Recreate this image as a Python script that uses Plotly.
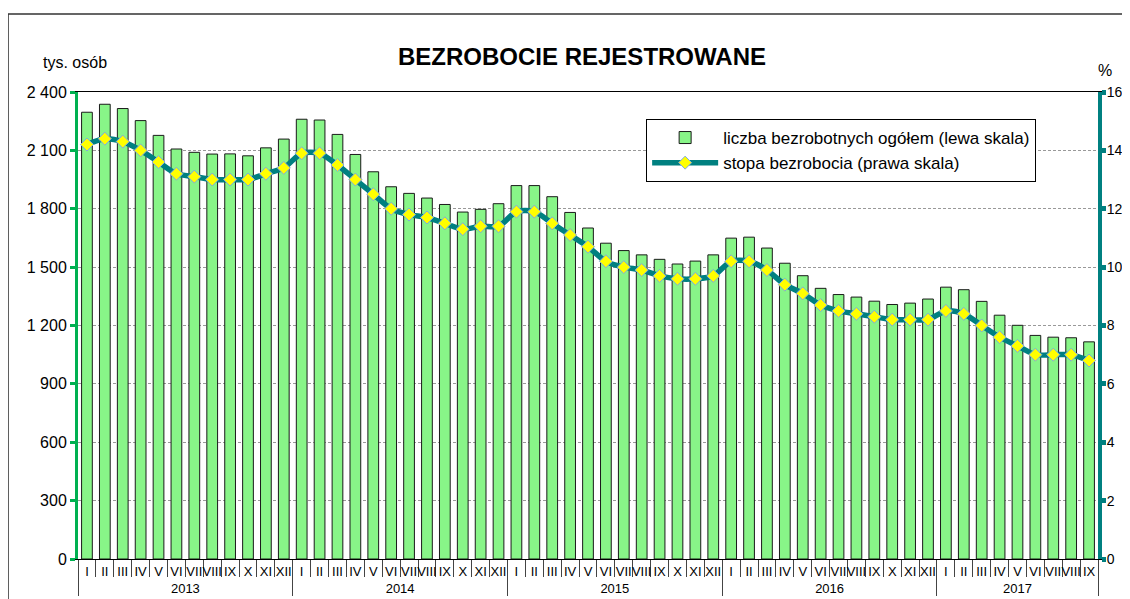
import plotly.graph_objects as go

years = ["2013", "2014", "2015", "2016", "2017"]
months = ["I", "II", "III", "IV", "V", "VI", "VII", "VIII", "IX", "X", "XI", "XII"]
months_per_year = [12, 12, 12, 12, 9]

unemployed = [
    2296, 2337, 2315, 2253, 2177, 2107, 2090, 2081, 2082, 2072, 2113, 2158,
    2260, 2256, 2182, 2079, 1990, 1913, 1879, 1855, 1822, 1783, 1797, 1826,
    1919, 1919, 1862, 1781, 1701, 1623, 1585, 1563, 1540, 1516, 1531, 1563,
    1649, 1654, 1598, 1520, 1456, 1391, 1359, 1346, 1325, 1308, 1315, 1336,
    1397, 1384, 1324, 1253, 1201, 1149, 1140, 1137, 1116,
]
rate = [
    14.2, 14.4, 14.3, 14.0, 13.6, 13.2, 13.1, 13.0, 13.0, 13.0, 13.2, 13.4,
    13.9, 13.9, 13.5, 13.0, 12.5, 12.0, 11.8, 11.7, 11.5, 11.3, 11.4, 11.4,
    11.9, 11.9, 11.5, 11.1, 10.7, 10.2, 10.0, 9.9, 9.7, 9.6, 9.6, 9.7,
    10.2, 10.2, 9.9, 9.4, 9.1, 8.7, 8.5, 8.4, 8.3, 8.2, 8.2, 8.2,
    8.5, 8.4, 8.0, 7.6, 7.3, 7.0, 7.0, 7.0, 6.8,
]

title_text = "BEZROBOCIE REJESTROWANE"
left_unit = "tys. osób"
right_unit = "%"
bar_name = "liczba bezrobotnych ogółem (lewa skala)"
line_name = "stopa bezrobocia (prawa skala)"

x_year = [y for y, n in zip(years, months_per_year) for _ in range(n)]
x_month = [m for n in months_per_year for m in months[:n]]
n_cat = len(unemployed)

FONT = "Liberation Sans, Arial, sans-serif"

fig = go.Figure()
fig.add_trace(go.Bar(
    x=[x_year, x_month], y=unemployed, name=bar_name,
    marker=dict(color="#88F588", line=dict(color="#1a1a1a", width=1)),
    yaxis="y",
))
fig.add_trace(go.Scatter(
    x=[x_year, x_month], y=rate, name=line_name, mode="lines+markers",
    line=dict(color="#008080", width=5.5, shape="spline", smoothing=0.8),
    marker=dict(symbol="diamond", size=10, color="#FFFF00",
                line=dict(color="#7FA8E0", width=1)),
    yaxis="y2",
))

fig.update_layout(
    width=1122, height=591,
    margin=dict(l=70, r=32, t=84, b=39.5, autoexpand=False),
    paper_bgcolor="white", plot_bgcolor="white",
    font=dict(family=FONT, size=16, color="black"),
    separators=", ",
    bargap=0.4,
    showlegend=True,
    legend=dict(
        x=0.557, y=0.9422, xanchor="left", yanchor="top",
        bordercolor="black", borderwidth=1, bgcolor="white",
        font=dict(size=17, family=FONT), itemwidth=66,
        tracegroupgap=0,
    ),
    xaxis=dict(
        type="multicategory", range=[-0.5, n_cat - 0.5],
        showline=True, linecolor="black", linewidth=1,
        mirror=True, ticks="outside", tickson="boundaries", ticklen=17,
        tickcolor="#444", showdividers=True, dividercolor="#444", dividerwidth=1,
        tickangle=0, tickfont=dict(size=13, family=FONT), showgrid=False,
    ),
    yaxis=dict(
        range=[0, 2400], dtick=300, tickformat=",d",
        showline=True, linecolor="#00B050", linewidth=3,
        ticks="outside", ticklen=5, tickwidth=3, tickcolor="#00B050",
        showgrid=True, gridcolor="#999999", griddash="3px,2px", gridwidth=1,
        tickfont=dict(size=16, family=FONT), zeroline=False,
    ),
    yaxis2=dict(
        range=[0, 16], dtick=2, overlaying="y", side="right",
        showline=True, linecolor="#008080", linewidth=4,
        ticks="outside", ticklen=4, tickwidth=5, tickcolor="#008080",
        showgrid=False, zeroline=False, ticklabelstandoff=-2,
        tickfont=dict(size=14, family=FONT),
    ),
    shapes=[
        dict(type="rect", xref="paper", yref="paper",
             x0=-0.0686, x1=1.2, y0=-0.3, y1=1.1668,
             line=dict(color="#333", width=1.5), layer="below"),
    ],
    annotations=[
        dict(text="<b>" + title_text + "</b>", xref="paper", yref="paper",
             x=0.494, y=1.077, xanchor="center", yanchor="middle",
             showarrow=False, font=dict(size=24, family=FONT)),
        dict(text=left_unit, xref="paper", yref="paper",
             x=-0.003, y=1.064, xanchor="center", yanchor="middle",
             showarrow=False, font=dict(size=16, family=FONT)),
        dict(text=right_unit, xref="paper", yref="paper",
             x=1.007, y=1.047, xanchor="center", yanchor="middle",
             showarrow=False, font=dict(size=16, family=FONT)),
    ],
)

fig.write_html("out.html")
